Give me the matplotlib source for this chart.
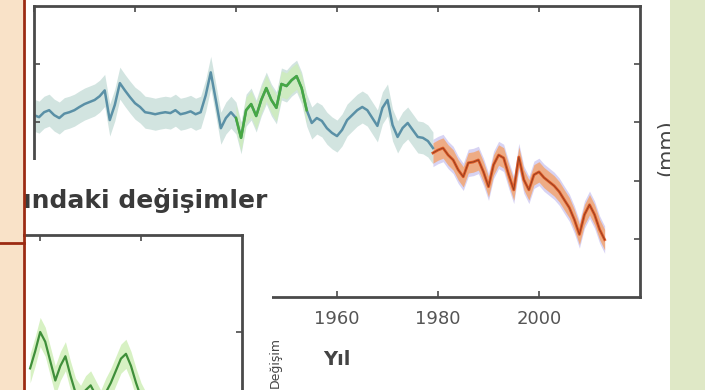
import matplotlib
matplotlib.use('Agg')
import matplotlib.pyplot as plt
from matplotlib.patches import Rectangle
import numpy as np

# main panel: blue/teal record 1900-1979
blue_years = list(range(1900, 1980))
blue_vals = [12.25, 12.18, 12.35, 12.42, 12.25, 12.15, 12.30, 12.35, 12.42, 12.53,
             12.63, 12.70, 12.77, 12.90, 13.10, 12.08, 12.60, 13.35, 13.10, 12.87,
             12.66, 12.53, 12.35, 12.32, 12.28, 12.32, 12.35, 12.32, 12.42, 12.28,
             12.32, 12.38, 12.28, 12.35, 12.93, 13.72, 12.77, 11.80, 12.15, 12.35,
             12.15, 11.47, 12.42, 12.63, 12.22, 12.77, 13.18, 12.77, 12.50, 13.32,
             13.25, 13.45, 13.59, 13.18, 12.42, 11.98, 12.15, 12.05, 11.80, 11.64,
             11.53, 11.74, 12.08, 12.25, 12.42, 12.53, 12.42, 12.15, 11.88, 12.50,
             12.77, 11.91, 11.50, 11.81, 11.98, 11.74, 11.50, 11.47, 11.36, 11.12]
blue_unc = 0.55

# green segment inside the blue record
green_years = list(range(1940, 1955))
green_vals = [12.15, 11.47, 12.42, 12.63, 12.22, 12.77, 13.18, 12.77, 12.50, 13.32,
              13.25, 13.45, 13.59, 13.18, 12.42]
green_unc = 0.45

# satellite era (orange)
orange_years = list(range(1979, 2014))
orange_vals = [10.95, 11.05, 11.12, 10.88, 10.71, 10.37, 10.13, 10.61, 10.64, 10.71,
               10.30, 9.79, 10.54, 10.88, 10.78, 10.20, 9.68, 10.81, 10.03, 9.68,
               10.20, 10.30, 10.10, 9.96, 9.82, 9.62, 9.34, 9.07, 8.66, 8.15,
               8.83, 9.17, 8.83, 8.32, 7.97]
orange_unc = 0.35

# inset panel (only a corner is visible)
inset_years = list(range(1898, 1922))
inset_vals = [2.5, 3.2, 4.0, 3.6, 2.8, 2.0, 2.6, 3.0, 2.2, 1.5, 1.2, 1.6,
              1.8, 1.4, 1.0, 1.5, 1.9, 2.4, 2.9, 3.1, 2.6, 1.9, 1.3, 0.9]

x_ticks = [1900, 1920, 1940, 1960, 1980, 2000]
x_labels = ['1900', '1920', '1940', '1960', '1980', '2000']
y_ticks = [8, 10, 12, 14]

W, H = 705, 390
fig = plt.figure(figsize=(W / 100, H / 100), dpi=100)
fig.patch.set_facecolor('white')


def fx(px):
    return px / W


def fy(py):
    return (H - py) / H


spine_col = '#4a4a4a'

ax = fig.add_axes([fx(34), fy(297), fx(640) - fx(34), fy(6) - fy(297)])
ax.set_zorder(1)
by = np.array(blue_vals)
ax.fill_between(blue_years, by - blue_unc, by + blue_unc, color='#b4d2cc', alpha=0.6, lw=0)
gy = np.array(green_vals)
ax.fill_between(green_years, gy - green_unc, gy + green_unc, color='#cdeeb4', alpha=0.7, lw=0)
ax.plot(blue_years, blue_vals, color='#5a90a6', lw=1.8)
ax.plot(green_years, green_vals, color='#47a842', lw=1.8)
oy = np.array(orange_vals)
ax.fill_between(orange_years, oy - orange_unc - 0.12, oy + orange_unc + 0.12, color='#bdb6ec', alpha=0.6, lw=0)
ax.fill_between(orange_years, oy - orange_unc, oy + orange_unc, color='#f6a060', alpha=0.75, lw=0)
ax.plot(orange_years, orange_vals, color='#de5a26', lw=2)
ax.plot(orange_years, orange_vals, color='#5a2a20', lw=0.6, alpha=0.6)

ax.set_xlim(1900, 2020)
ax.set_ylim(6, 16)
ax.set_xticks(x_ticks)
ax.set_xticklabels(x_labels)
ax.set_yticks(y_ticks)
ax.tick_params(direction='in', length=4, width=1.2, color=spine_col,
               top=True, right=True, labelleft=False,
               labelsize=13, labelcolor='#555555', pad=9)
for s in ax.spines.values():
    s.set_color(spine_col)
    s.set_linewidth(2)
ax.set_xlabel('Yıl', fontsize=14, color='#444444', fontweight='bold', labelpad=16)

# white inset panel covering lower left
fig.add_artist(Rectangle((fx(23), 0), fx(272) - fx(23), fy(160), transform=fig.transFigure,
                         facecolor='white', edgecolor='none', zorder=3))
fig.text(fx(23), fy(208), 'ındaki değişimler', fontsize=18, color='#3a3a3a',
         fontweight='bold', ha='left', va='baseline', zorder=4)

ins = fig.add_axes([fx(20), fy(429), fx(242) - fx(20), fy(235) - fy(429)])
ins.set_zorder(4)
iv = np.array(inset_vals)
ins.fill_between(inset_years, iv - 0.6, iv + 0.6, color='#cdeeb4', alpha=0.8, lw=0)
ins.plot(inset_years, inset_vals, color='#3f8f3a', lw=1.6)
ins.set_xlim(1896, 1940)
ins.set_ylim(0, 8)
ins.set_xticks([1900, 1920])
ins.set_yticks([4])
ins.tick_params(direction='in', length=4, width=1.2, color=spine_col, top=True, right=True,
                bottom=False, left=False, labelbottom=False, labelleft=False)
for k, s in ins.spines.items():
    s.set_color(spine_col)
    s.set_linewidth(2)
ins.spines['bottom'].set_visible(False)

fig.text(fx(275), fy(362), 'Değişim', fontsize=9, color='#444444', rotation=90,
         ha='center', va='center', zorder=5)

# right y-label of the next panel, partly hidden
fig.text(fx(666), fy(148), '(mm)', fontsize=15, color='#444444', rotation=90,
         ha='center', va='center', zorder=5)

# slide background pieces
fig.add_artist(Rectangle((0, 0), fx(23), 1, transform=fig.transFigure,
                         facecolor='#f9e2c8', edgecolor='none', zorder=8))
fig.add_artist(Rectangle((fx(670), 0), 1 - fx(670), 1, transform=fig.transFigure,
                         facecolor='#dfe8c6', edgecolor='none', zorder=8))
fig.add_artist(plt.Line2D([fx(23.5), fx(23.5)], [0, 1], transform=fig.transFigure,
                          color='#9c2b12', lw=2, zorder=9))
fig.add_artist(plt.Line2D([0, fx(23.5)], [fy(243), fy(243)], transform=fig.transFigure,
                          color='#9c2b12', lw=2, zorder=9))

fig.savefig('out.png', dpi=100)
